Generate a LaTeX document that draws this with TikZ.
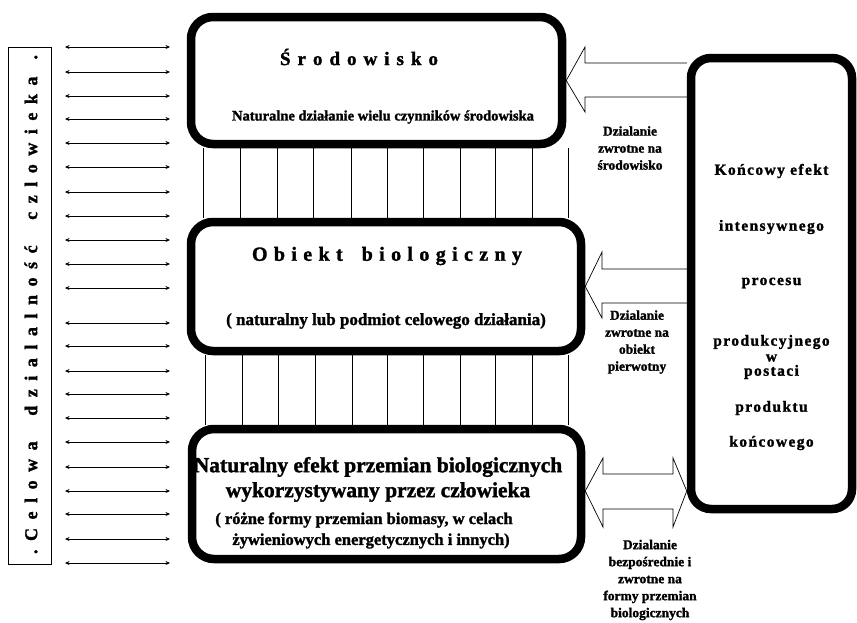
\documentclass[tikz,border=0pt]{standalone}
\usepackage{fontspec}
\setmainfont{Liberation Serif}[BoldFont={Liberation Serif Bold},BoldFeatures={FakeBold=1.5}]
\usetikzlibrary{arrows.meta,calc}
\begin{document}
\begin{tikzpicture}[x=1pt,y=-1pt,
  bigbox/.style={draw,line width=8.5pt,rounded corners=22pt,inner sep=0pt},
  thinline/.style={line width=0.7pt},
  smallarr/.style={line width=0.6pt,arrows={Stealth[length=4.5pt,width=4pt]-Stealth[length=4.5pt,width=4pt]}},
  lbl/.style={align=center,inner sep=0pt,font=\fontsize{13.5}{17}\selectfont\bfseries},
  rtxt/.style={inner sep=0pt,font=\fontsize{15.5}{18}\selectfont\bfseries\addfontfeatures{LetterSpace=9}}]
\useasboundingbox (0,0) rectangle (857,622);

% boxes
\node[bigbox,minimum width=371pt,minimum height=127pt] (b1) at (376.5,80.5) {};
\node[bigbox,minimum width=390pt,minimum height=129pt] (b2) at (386,286.5) {};
\node[bigbox,minimum width=389pt,minimum height=130pt] (b3) at (386.5,494) {};
\node[bigbox,rounded corners=20pt,minimum width=161pt,minimum height=451pt] (rb) at (771.5,283.5) {};
\node[draw,thinline,inner sep=0pt,minimum width=43pt,minimum height=517pt] (lb) at (29.5,305.5) {};

% left vertical text
\node[rotate=90,inner sep=0pt,font=\fontsize{18}{21}\selectfont\bfseries] (lt) at (31,304.5)
 {\makebox[499pt]{.\hfill C\hfill e\hfill l\hfill o\hfill w\hfill a\hfill\hfill\hfill d\hfill z\hfill i\hfill a\hfill l\hfill a\hfill l\hfill n\hfill o\hfill ś\hfill ć\hfill\hfill\hfill c\hfill z\hfill l\hfill o\hfill w\hfill i\hfill e\hfill k\hfill a\hfill\hfill .}};

% small double arrows on the left
\foreach \y in {47,72,96,119,143,167,192,216,240,264,288,323,346,371,394,418,442,467,491,514,539,563}
  \draw[smallarr] (65,\y) -- (170,\y);

% vertical connectors between boxes
\foreach \x in {203,240,277,313,351,387,423,460,495,532,568}
  \draw[thinline] (\x,0 |- b1.south) -- (\x,0 |- b2.north);
\foreach \x in {205,242,278,315,352,387,423,460,495,532,568}
  \draw[thinline] (\x,0 |- b2.south) -- (\x,0 |- b3.north);

% box texts
\node[inner sep=0pt,font=\fontsize{19}{22}\selectfont\bfseries] (t1) at (359,57)
 {\makebox[158pt]{Ś\hfill r\hfill o\hfill d\hfill o\hfill w\hfill i\hfill s\hfill k\hfill o}};
\node[inner sep=0pt,font=\fontsize{14.5}{17}\selectfont\bfseries] (s1) at (383,117) {Naturalne działanie wielu czynników środowiska};
\node[inner sep=0pt,font=\fontsize{20}{23}\selectfont\bfseries] (t2) at (387,256)
 {\makebox[270pt]{O\hfill b\hfill i\hfill e\hfill k\hfill t\hfill\hfill\hfill b\hfill i\hfill o\hfill l\hfill o\hfill g\hfill i\hfill c\hfill z\hfill n\hfill y}};
\node[inner sep=0pt,font=\fontsize{17}{20}\selectfont\bfseries] (s2) at (386,321) {( naturalny lub podmiot celowego działania)};
\node[inner sep=0pt,font=\fontsize{21.5}{24}\selectfont\bfseries] (t3a) at (378,467) {Naturalny efekt przemian biologicznych};
\node[inner sep=0pt,font=\fontsize{21.5}{24}\selectfont\bfseries] (t3b) at (378,492) {wykorzystywany przez człowieka};
\node[inner sep=0pt,font=\fontsize{16.5}{19}\selectfont\bfseries] (s3a) at (364,520) {( różne formy przemian biomasy, w celach};
\node[inner sep=0pt,font=\fontsize{16.5}{19}\selectfont\bfseries] (s3b) at (371,541) {żywieniowych energetycznych i innych)};

% right box text
\node[rtxt] (r1) at (771.5,171) {Końcowy efekt};
\node[rtxt] (r2) at (771.5,227) {intensywnego};
\node[rtxt] (r3) at (771.5,283) {procesu};
\node[rtxt] (r4) at (771.5,342) {produkcyjnego};
\node[rtxt] (r5) at (771.5,358) {w};
\node[rtxt] (r6) at (771.5,372) {postaci};
\node[rtxt] (r7) at (771.5,408) {produktu};
\node[rtxt] (r8) at (771.5,443) {końcowego};

% hollow feedback arrows
\draw[thinline] (rb.west |- 0,63) -- (585,63) -- (585,47) -- (b1.east) -- (585,112) -- (585,97) -- (rb.west |- 0,97);
\draw[thinline] (rb.west |- 0,269) -- (602,269) -- (602,252) -- (b2.east) -- (602,318) -- (602,303) -- (rb.west |- 0,303);
\coordinate (dl) at (b3.east |- 0,491);
\coordinate (dr) at (rb.west |- 0,491);
\draw[thinline] (dl) -- (603,458) -- (603,474) -- (673,474) -- (673,458) -- (dr) -- (673,527) -- (673,509) -- (603,509) -- (603,527) -- cycle;

% labels
\node[lbl] (l1) at (630,148) {Dzialanie\\zwrotne na\\środowisko};
\node[lbl] (l2) at (637,342) {Dzialanie\\zwrotne na\\obiekt\\pierwotny};
\node[lbl] (l3) at (650,580) {Dzialanie\\bezpośrednie i\\zwrotne na\\formy przemian\\biologicznych};
\end{tikzpicture}
\end{document}
